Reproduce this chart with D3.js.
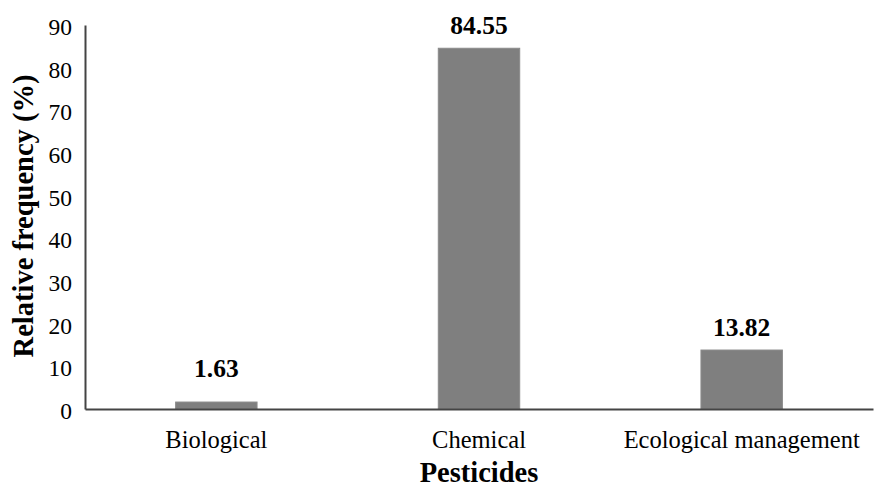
<!DOCTYPE html>
<html>
<head>
<meta charset="utf-8">
<script src="https://cdn.jsdelivr.net/npm/d3@7"></script>
<style>
  html, body { margin: 0; padding: 0; background: #fff; }
  svg { display: block; }
  text { font-family: "Liberation Serif", "Times New Roman", serif; fill: #000; }
</style>
</head>
<body>
<svg id="chart" width="880" height="489"></svg>
<script>
const categories = ["Biological", "Chemical", "Ecological management"];
const values = [1.63, 84.55, 13.82];
const valueLabels = ["1.63", "84.55", "13.82"];
const yTicks = [0, 10, 20, 30, 40, 50, 60, 70, 80, 90];
const xTitle = "Pesticides";
const yTitle = "Relative frequency (%)";

const svg = d3.select("#chart");
const margin = { left: 85, right: 7, top: 25, bottom: 80 };
const W = 880, H = 489;

const x = d3.scaleBand()
  .domain(categories)
  .range([margin.left, W - margin.right])
  .paddingInner(0.69)
  .paddingOuter(0.345);

const y = d3.scaleLinear()
  .domain([0, 90])
  .range([H - margin.bottom, margin.top]);

// bars
svg.append("g").selectAll("rect")
  .data(values)
  .join("rect")
  .attr("x", (d, i) => x(categories[i]))
  .attr("width", x.bandwidth())
  .attr("y", d => y(d))
  .attr("height", d => y(0) - y(d))
  .attr("fill", "#7f7f7f")
  .attr("stroke", "#8a8a8a")
  .attr("stroke-width", 1);

// y axis
const yAxis = d3.axisLeft(y).tickValues(yTicks).tickSize(0).tickPadding(13);
const gy = svg.append("g").attr("transform", `translate(${margin.left},0)`).call(yAxis);
gy.select(".domain").attr("stroke", "#444").attr("stroke-width", 2);
gy.selectAll(".tick text")
  .attr("font-size", 23.5)
  .attr("font-family", "Liberation Serif, Times New Roman, serif")
  .attr("fill", "#000")
  .attr("dy", "0.4em");

// x axis
const xAxis = d3.axisBottom(x).tickSize(0).tickPadding(22);
const gx = svg.append("g").attr("transform", `translate(0,${y(0)})`).call(xAxis);
gx.select(".domain").attr("stroke", "#444").attr("stroke-width", 2);
gx.selectAll(".tick text")
  .attr("font-size", 24.5)
  .attr("font-family", "Liberation Serif, Times New Roman, serif")
  .attr("fill", "#000");

// value labels
svg.append("g").selectAll("text")
  .data(values)
  .join("text")
  .attr("x", (d, i) => x(categories[i]) + x.bandwidth() / 2)
  .attr("y", d => Math.min(y(d) - 14, y(0) - 32))
  .attr("text-anchor", "middle")
  .attr("font-weight", "bold")
  .attr("font-size", 25.5)
  .text((d, i) => valueLabels[i]);

// axis titles
svg.append("text")
  .attr("x", x(categories[1]) + x.bandwidth() / 2)
  .attr("y", 482)
  .attr("text-anchor", "middle")
  .attr("font-weight", "bold")
  .attr("font-size", 28.5)
  .text(xTitle);

svg.append("text")
  .attr("transform", `translate(33,${(y(0) + y(90)) / 2 - 1}) rotate(-90)`)
  .attr("text-anchor", "middle")
  .attr("font-weight", "bold")
  .attr("font-size", 28.5)
  .text(yTitle);
</script>
</body>
</html>
